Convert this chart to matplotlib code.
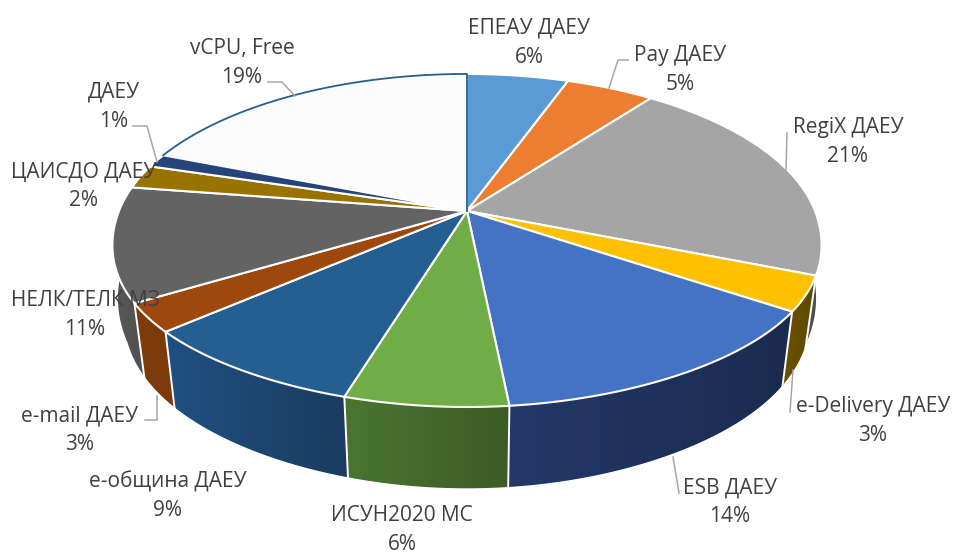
import numpy as np
import matplotlib
matplotlib.use('Agg')
import matplotlib.pyplot as plt
from matplotlib.patches import Polygon
from matplotlib.colors import to_rgb

# labels, printed percentages and the slice shares
names = ['ЕПЕАУ ДАЕУ', 'Pay ДАЕУ', 'RegiX ДАЕУ', 'e-Delivery ДАЕУ', 'ESB ДАЕУ', 'ИСУН2020 МС',
         'e-община ДАЕУ', 'e-mail ДАЕУ', 'НЕЛК/ТЕЛК МЗ', 'ЦАИСДО ДАЕУ', 'ДАЕУ', 'vCPU, Free']
percents = [6, 5, 21, 3, 14, 6, 9, 3, 11, 2, 1, 19]
shares = [5.5, 4.8, 20.8, 3.4, 13.9, 6.3, 8.8, 2.8, 11.1, 2.3, 1.3, 19.0]

top_colors = ['#5B9BD5', '#ED7D31', '#A5A5A5', '#FFC000', '#4472C4', '#70AD47',
              '#255E91', '#9E480E', '#636363', '#997300', '#264478', '#FCFCFC']
wall_left = ['#3F6C94', '#A55722', '#4d4d4d', '#6b5100', '#24386a', '#4a7530',
             '#1f5080', '#7d3a0a', '#5a5a5a', '#6b5000', '#1a2f54', '#b0b0b0']
wall_right = ['#3F6C94', '#A55722', '#4d4d4d', '#5f4800', '#1a2b4e', '#3d5c26',
              '#1a3c60', '#7d3a0a', '#4f4f4f', '#6b5000', '#1a2f54', '#b0b0b0']

label_x = [529, 680, 848, 873, 730, 402, 168, 80, 85, 84, 114, 242]
label_y = [43, 70, 142, 421, 502, 530, 496, 430, 315, 186, 107, 63]

leaders = [
    ([268, 282, 295], [82, 82, 96]),
    ([133, 147, 157], [126, 126, 162]),
    ([628, 618, 609], [60, 60, 88]),
    ([787, 786], [133, 170]),
    ([790, 793], [412, 370]),
    ([679, 673], [493, 457]),
    ([145, 157, 157], [420, 420, 396]),
]

# perspective of the pie disc, in pixels
CX, CY = 467, 211
RX, RY = 348, 161.3
K = 0.177
DEPTH = 67.5
SHRINK = 0.03
BULGE = 0.02


def top_xy(deg):
    t = np.radians(deg)
    w = 1 + K * np.cos(t)
    # the lower corners of the disc sit a little wider than a true ellipse
    b = 1 + BULGE * np.sin(2 * t) ** 2 * (np.cos(t) < 0)
    return CX + RX * np.sin(t) / w * b, CY - RY * np.cos(t) / w


def bottom_xy(deg):
    t = np.radians(deg)
    w = 1 + K * np.cos(t)
    x, y = top_xy(deg)
    # bottom rim pulls inwards towards the front, not at the far sides
    s = 1 - SHRINK * np.minimum(1, np.abs(np.cos(t)) / 0.35)
    return CX + (x - CX) * s, y + DEPTH / w


fig = plt.figure(figsize=(9.54, 5.54), dpi=100, facecolor='white')
ax = fig.add_axes([0, 0, 1, 1])

edges = np.concatenate([[0], np.cumsum(shares)]) / np.sum(shares) * 360

# side walls: a horizontal gradient image clipped to each wall outline
for i in range(len(shares)):
    a0, a1 = max(edges[i], 90), min(edges[i + 1], 270)
    if a1 <= a0:
        continue
    arc = np.linspace(a0, a1, 80)
    xt, yt = top_xy(arc)
    xb, yb = bottom_xy(arc)
    outline = np.column_stack([np.concatenate([xt, xb[::-1]]), np.concatenate([yt, yb[::-1]])])
    c0, c1 = np.array(to_rgb(wall_left[i])), np.array(to_rgb(wall_right[i]))
    f = np.linspace(0, 1, 64)[:, None]
    grad = (c0 * (1 - f) + c1 * f)[None, :, :]
    img = ax.imshow(grad, extent=[outline[:, 0].min(), outline[:, 0].max(), outline[:, 1].max(), outline[:, 1].min()],
                    aspect='auto', zorder=2, interpolation='bilinear')
    clip = Polygon(outline, closed=True, transform=ax.transData, facecolor='none', edgecolor='none')
    ax.add_patch(clip)
    img.set_clip_path(clip)
    ax.plot(xb, yb, color='white', lw=1.0, zorder=3)

ax.set_xlim(0, 954)
ax.set_ylim(554, 0)
ax.axis('off')

for deg in edges:
    if 90 < deg < 270:
        xa, ya = top_xy(deg)
        xb, yb = bottom_xy(deg)
        ax.plot([xa, xb], [ya, yb], color='white', lw=1.4, zorder=3)

# top face, white slice last so that its outline stays on top
for i in range(len(shares)):
    arc = np.linspace(edges[i], edges[i + 1], 80)
    xs, ys = top_xy(arc)
    xs = np.concatenate([[CX], xs])
    ys = np.concatenate([[CY], ys])
    if i == len(shares) - 1:
        ax.fill(xs, ys, facecolor=top_colors[i], edgecolor='none', zorder=5)
        # navy outline on the rim and the upright radius only
        ax.plot(np.append(xs[1:], CX), np.append(ys[1:], CY), color='#2A5D8F', lw=1.3, zorder=5)
    else:
        ax.fill(xs, ys, facecolor=top_colors[i], edgecolor='white', lw=1.5, joinstyle='round', zorder=4)

for lx, ly in leaders:
    ax.plot(lx, ly, color='#A6A6A6', lw=1.1, zorder=6)

for i in range(len(names)):
    ax.text(label_x[i], label_y[i], '%s\n%d%%' % (names[i], percents[i]), ha='center', va='center',
            fontsize=15, family='Open Sans', color='#404040', linespacing=1.5, zorder=7)

fig.savefig('out.png', dpi=100)
